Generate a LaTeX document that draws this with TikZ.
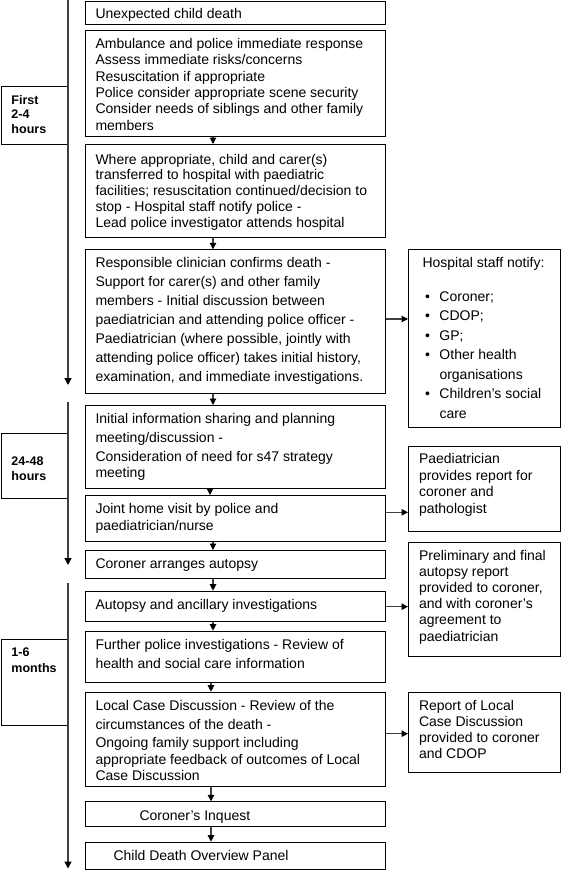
\documentclass[tikz,border=0pt]{standalone}
\usepackage{fontspec}
\setmainfont{Liberation Sans}
\usetikzlibrary{arrows.meta}
\hbadness=10000 \hfuzz=60pt \vbadness=10000 \vfuzz=60pt
% #1 height, #2 width, #3 left pad, #4 first baseline, #5 font size, #6 baselineskip, #7 text
\newcommand\boxtext[7]{\parbox[t][#1pt][t]{#2pt}{\fontsize{#5pt}{#6pt}\selectfont\leftskip=#3pt\rightskip=0pt plus 1fil\parfillskip=0pt plus 1fil\rule{0pt}{#4pt}#7\par}}
\begin{document}
\begin{tikzpicture}[x=1pt,y=-1pt,
  box/.style={draw, line width=1pt, inner sep=0pt, anchor=north west},
  arr/.style={line width=1.1pt, draw=black!75, -{Triangle[length=6.5pt,width=6.5pt,color=black,fill=black]}},
  tline/.style={line width=1.3pt, draw=black!75, -{Triangle[length=7pt,width=7pt,fill=black,color=black]}}]
\useasboundingbox (0,0) rectangle (561,870);

% main column
\node[box] (b1) at (85,1) {\boxtext{23}{300}{10}{17.5}{14}{16}{Unexpected child death}};
\node[box] (b2) at (85,30.3) {\boxtext{106}{300}{10}{17.5}{14}{16.4}{Ambulance and police immediate response\\Assess immediate risks/concerns\\Resuscitation if appropriate\\Police consider appropriate scene security\\Consider needs of siblings and other family\\members}};
\node[box] (b3) at (85,144) {\boxtext{93.3}{300}{10}{19.5}{14}{15.9}{Where appropriate, child and carer(s)\\transferred to hospital with paediatric\\facilities; resuscitation continued/decision to\\stop - Hospital staff notify police -\\Lead police investigator attends hospital}};
\node[box] (b4) at (85,249.3) {\boxtext{144}{300}{10}{17.9}{14}{18.9}{Responsible clinician confirms death -\\Support for carer(s) and other family\\members - Initial discussion between\\paediatrician and attending police officer -\\Paediatrician (where possible, jointly with\\attending police officer) takes initial history,\\examination, and immediate investigations.}};
\node[box] (b5) at (85,405) {\boxtext{83.3}{300}{10}{17.8}{14}{16.3}{Initial information sharing and planning\\[2.7pt]meeting/discussion -\\[2.4pt]Consideration of need for s47 strategy\\meeting}};
\node[box] (b6) at (85,495) {\boxtext{46}{300}{10}{17.8}{14}{16.7}{Joint home visit by police and\\paediatrician/nurse}};
\node[box] (b7) at (85,550) {\boxtext{28.3}{300}{10}{17.8}{14}{16}{Coroner arranges autopsy}};
\node[box] (b8) at (85,590.7) {\boxtext{30.6}{300}{10}{17.8}{14}{16}{Autopsy and ancillary investigations}};
\node[box] (b9) at (85,630.7) {\boxtext{51.3}{300}{10}{17.8}{14}{19}{Further police investigations - Review of\\health and social care information}};
\node[box] (b10) at (85,691.7) {\boxtext{94.3}{300}{10}{17.8}{14}{16}{Local Case Discussion - Review of the\\[3pt]circumstances of the death -\\[2.3pt]Ongoing family support including\\[0.7pt]appropriate feedback of outcomes of Local\\Case Discussion}};
\node[box] (b11) at (85,801.3) {\boxtext{24.4}{300}{10}{18.2}{14}{16}{\hspace*{44pt}Coroner’s Inquest}};
\node[box] (b12) at (85,841.7) {\boxtext{27.6}{300}{10}{17.8}{14}{16}{\hspace*{18pt}Child Death Overview Panel}};

% right column
\node[box] (r1) at (408,249.3) {\boxtext{177.7}{152}{10.5}{17.9}{14}{19.5}{\hspace*{3.5pt}Hospital staff notify:\\[13.8pt]\hspace*{6pt}\makebox[14.5pt][l]{•}Coroner;\\\hspace*{6pt}\makebox[14.5pt][l]{•}CDOP;\\\hspace*{6pt}\makebox[14.5pt][l]{•}GP;\\\hspace*{6pt}\makebox[14.5pt][l]{•}Other health\\\hspace*{20.5pt}organisations\\\hspace*{6pt}\makebox[14.5pt][l]{•}Children’s social\\\hspace*{20.5pt}care}};
\node[box] (r2) at (408,446) {\boxtext{85}{152}{10.5}{16.8}{14}{16.7}{Paediatrician\\provides report for\\coroner and\\pathologist}};
\node[box] (r3) at (408,541.7) {\boxtext{114.3}{152}{10.5}{17.8}{14}{16.2}{Preliminary and final\\autopsy report\\provided to coroner,\\and with coroner’s\\agreement to\\paediatrician}};
\node[box] (r4) at (408,691.7) {\boxtext{80.6}{152}{10.5}{17.8}{14}{16.2}{Report of Local\\Case Discussion\\provided to coroner\\and CDOP}};

% time labels
\node[box] (l1) at (0.5,86) {\boxtext{58}{67.5}{10.5}{17.8}{12.5}{14.6}{\bfseries First\\2-4\\hours}};
\node[box] (l2) at (0.5,433.3) {\boxtext{65}{67.5}{10.5}{31.2}{12.5}{15}{\bfseries 24-48\\hours}};
\node[box] (l3) at (0.5,639.3) {\boxtext{86}{67.5}{10.5}{16.2}{12.5}{16.3}{\bfseries 1-6\\months}};

% timelines
\coordinate (t1a) at (68,0);     \coordinate (t1b) at (68,385);
\coordinate (t2a) at (68,401.7); \coordinate (t2b) at (68,565);
\coordinate (t3a) at (68,583.3); \coordinate (t3b) at (68,868.5);
\draw[tline] (t1a) -- (t1b);
\draw[tline] (t2a) -- (t2b);
\draw[tline] (t3a) -- (t3b);

% down arrows
\coordinate (ax) at (213,0);
\coordinate (axb) at (210,0);
\coordinate (axc) at (211,0);
\draw[arr] (b2.south -| ax) -- (b3.north -| ax);
\draw[arr] (b3.south -| ax) -- (b4.north -| ax);
\draw[arr] (b4.south -| ax) -- (b5.north -| ax);
\draw[arr] (b5.south -| axb) -- (b6.north -| axb);
\draw[arr] (b6.south -| ax) -- (b7.north -| ax);
\draw[arr] (b7.south -| ax) -- (b8.north -| ax);
\draw[arr] (b8.south -| ax) -- (b9.north -| ax);
\draw[arr] (b9.south -| axc) -- (b10.north -| axc);
\draw[arr] (b10.south -| axc) -- (b11.north -| axc);
\draw[arr] (b11.south -| axc) -- (b12.north -| axc);

% side arrows
\coordinate (h1) at (0,319);
\coordinate (h2) at (0,512.3);
\coordinate (h3) at (0,606.7);
\coordinate (h4) at (0,733.7);
\draw[arr] (b4.east |- h1) -- (r1.west |- h1);
\draw[arr] (b6.east |- h2) -- (r2.west |- h2);
\draw[arr] (b8.east |- h3) -- (r3.west |- h3);
\draw[arr] (b10.east |- h4) -- (r4.west |- h4);
\end{tikzpicture}
\end{document}
